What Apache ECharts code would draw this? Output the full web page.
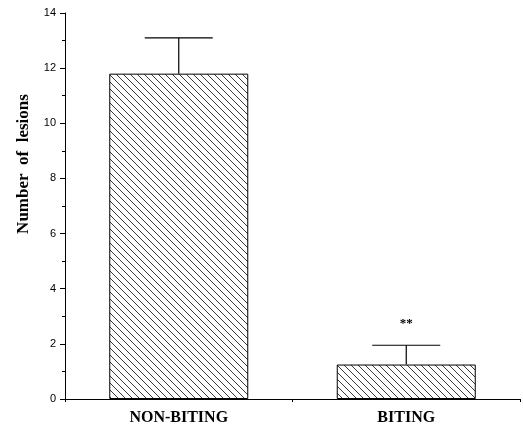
<!DOCTYPE html>
<html><head><meta charset="utf-8">
<script src="https://cdn.jsdelivr.net/npm/echarts@6/dist/echarts.min.js"></script>
<style>html,body{margin:0;background:#fff}#c{width:523px;height:427px}</style>
</head><body><div id="c"></div>
<script>
const categories = ['NON-BITING', 'BITING'];
const means = [11.8, 1.25];
const sems = [1.3, 0.7];
const marks = ['', '**'];
const yMin = 0, yMax = 14, yStep = 2;
const yTitle = 'Number  of  lesions';

function hatch() {
  const s = 7;
  const c = document.createElement('canvas');
  c.width = s; c.height = s;
  const g = c.getContext('2d');
  g.fillStyle = '#fff'; g.fillRect(0, 0, s, s);
  g.strokeStyle = '#222'; g.lineWidth = 0.9;
  g.beginPath();
  for (let k = -1; k <= 1; k++) { g.moveTo(0, k * s); g.lineTo(s, s + k * s); }
  g.stroke();
  return c;
}

const chart = echarts.init(document.getElementById('c'), null, {renderer: 'canvas'});
chart.setOption({
  animation: false,
  backgroundColor: '#fff',
  grid: {left: 65, right: 3, top: 13, bottom: 28, containLabel: false},
  xAxis: {
    type: 'category', data: categories,
    axisLine: {lineStyle: {color: '#000', width: 1}},
    axisTick: {show: true, length: 3, lineStyle: {color: '#000'}},
    axisLabel: {color: '#000', fontFamily: 'Liberation Serif', fontWeight: 'bold', fontSize: 16, margin: 11}
  },
  yAxis: {
    type: 'value', min: yMin, max: yMax, interval: yStep,
    name: yTitle, nameLocation: 'middle', nameGap: 33, nameRotate: 90,
    nameTextStyle: {color: '#000', fontFamily: 'Liberation Serif', fontWeight: 'bold', fontSize: 17, padding: [0, 0, 0, 84]},
    axisLine: {show: true, lineStyle: {color: '#000', width: 1}},
    axisTick: {show: true, length: 5, lineStyle: {color: '#000'}},
    minorTick: {show: true, splitNumber: 2, length: 3, lineStyle: {color: '#000'}},
    splitLine: {show: false},
    axisLabel: {color: '#000', fontFamily: 'Liberation Sans', fontSize: 11, margin: 9}
  },
  series: [
    {
      type: 'bar', data: means, barWidth: 139,
      itemStyle: {color: {image: hatch(), repeat: 'repeat'}, borderColor: '#000', borderWidth: 1}
    },
    {
      type: 'custom',
      data: means.map((m, i) => [i, m, sems[i], marks[i]]),
      renderItem: function (params, api) {
        const i = api.value(0), m = api.value(1), e = api.value(2);
        const base = api.coord([i, m]);
        const top = api.coord([i, m + e]);
        const hw = 34;
        const children = [
          {type: 'line', shape: {x1: base[0], y1: base[1], x2: top[0], y2: top[1]}, style: {stroke: '#000', lineWidth: 1.2}},
          {type: 'line', shape: {x1: top[0] - hw, y1: top[1], x2: top[0] + hw, y2: top[1]}, style: {stroke: '#000', lineWidth: 1.2}}
        ];
        const mk = marks[params.dataIndex];
        if (mk) children.push({type: 'text', style: {text: mk, x: top[0], y: top[1] - 22, align: 'center', verticalAlign: 'middle', font: 'bold 13px "Liberation Serif"', fill: '#000'}});
        return {type: 'group', children: children};
      },
      z: 5
    }
  ]
});
</script></body></html>
